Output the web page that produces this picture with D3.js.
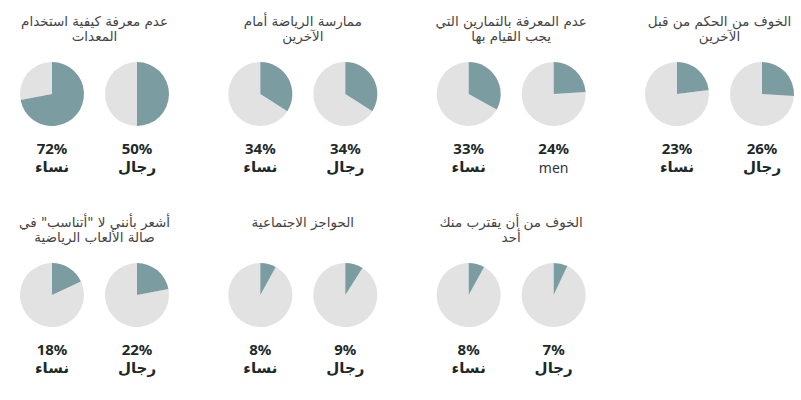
<!DOCTYPE html>
<html><head><meta charset="utf-8">
<script src="https://cdn.jsdelivr.net/npm/d3@7"></script>
<style>
body{margin:0;background:#fff;}
svg{display:block;}
</style></head>
<body>
<svg id="chart" width="801" height="400"></svg>
<script>
// reading order (right to left), the second row is pushed to the left edge
const titles = [
  ["الخوف من الحكم من قبل", "الآخرين"],
  ["عدم المعرفة بالتمارين التي", "يجب القيام بها"],
  ["ممارسة الرياضة أمام", "الآخرين"],
  ["عدم معرفة كيفية استخدام", "المعدات"],
  ["الخوف من أن يقترب منك", "أحد"],
  ["الحواجز الاجتماعية"],
  ['أشعر بأنني لا "أتناسب" في', "صالة الألعاب الرياضية"]
];
const menValues   = [26, 24, 34, 50, 7, 9, 22];
const womenValues = [23, 33, 34, 72, 8, 8, 18];
const menLabels   = ["رجال", "men", "رجال", "رجال", "رجال", "رجال", "رجال"];
const womenLabels = ["نساء", "نساء", "نساء", "نساء", "نساء", "نساء", "نساء"];

const svg = d3.select("#chart");
const nCols = 4;
const nRows = Math.ceil(titles.length / nCols);
const colX = d3.scalePoint().domain(d3.range(nCols)).range([719.5, 94.5]);
const rowY = d3.scalePoint().domain(d3.range(nRows)).range([94, 295]);
const genderX = d3.scalePoint().domain(["women", "men"]).range([-42.5, 42.5]);
const r = 32;
const pct = d3.scaleLinear().domain([0, 100]).range([0, 2 * Math.PI]);
const arc = d3.arc().innerRadius(0).outerRadius(r);
const teal = "#7b9ca1", grey = "#e2e2e2";
const titleFont = "'DejaVu Sans', 'Noto Sans', sans-serif";
const numFont = "'Noto Sans', 'DejaVu Sans', sans-serif";

titles.forEach((t, i) => {
  const row = Math.floor(i / nCols);
  const inRow = Math.min(nCols, titles.length - row * nCols);
  const col = (i % nCols) + (nCols - inRow);
  const g = svg.append("g").attr("transform", `translate(${colX(col)},${rowY(row)})`);
  const tt = g.append("text").attr("text-anchor", "middle").attr("direction", "rtl")
    .attr("font-family", titleFont).attr("font-size", 13.5).attr("fill", "#454545");
  t.forEach((line, k) => {
    tt.append("tspan").attr("x", 0).attr("y", -68 + k * 15).text(line);
  });
  const items = [
    { g: "women", v: womenValues[i], label: womenLabels[i] },
    { g: "men", v: menValues[i], label: menLabels[i] }
  ];
  items.forEach(d => {
    const pg = g.append("g").attr("transform", `translate(${genderX(d.g)},0)`);
    pg.append("path").attr("fill", grey)
      .attr("d", arc({ startAngle: pct(d.v), endAngle: pct(100) }));
    pg.append("path").attr("fill", teal)
      .attr("d", arc({ startAngle: 0, endAngle: pct(d.v) }));
    pg.append("text").attr("text-anchor", "middle").attr("y", 60)
      .attr("font-family", numFont).attr("font-weight", "bold").attr("font-size", 15)
      .attr("fill", "#1c2a29").text(d.v + "%");
    const isLatin = /^[a-z]+$/i.test(d.label);
    pg.append("text").attr("text-anchor", "middle").attr("y", isLatin ? 79 : 78)
      .attr("direction", isLatin ? "ltr" : "rtl")
      .attr("font-family", isLatin ? numFont : titleFont)
      .attr("font-weight", isLatin ? "normal" : "bold")
      .attr("font-size", isLatin ? 14 : 15)
      .attr("fill", isLatin ? "#333" : "#1c2a29").text(d.label);
  });
});
</script>
</body></html>
